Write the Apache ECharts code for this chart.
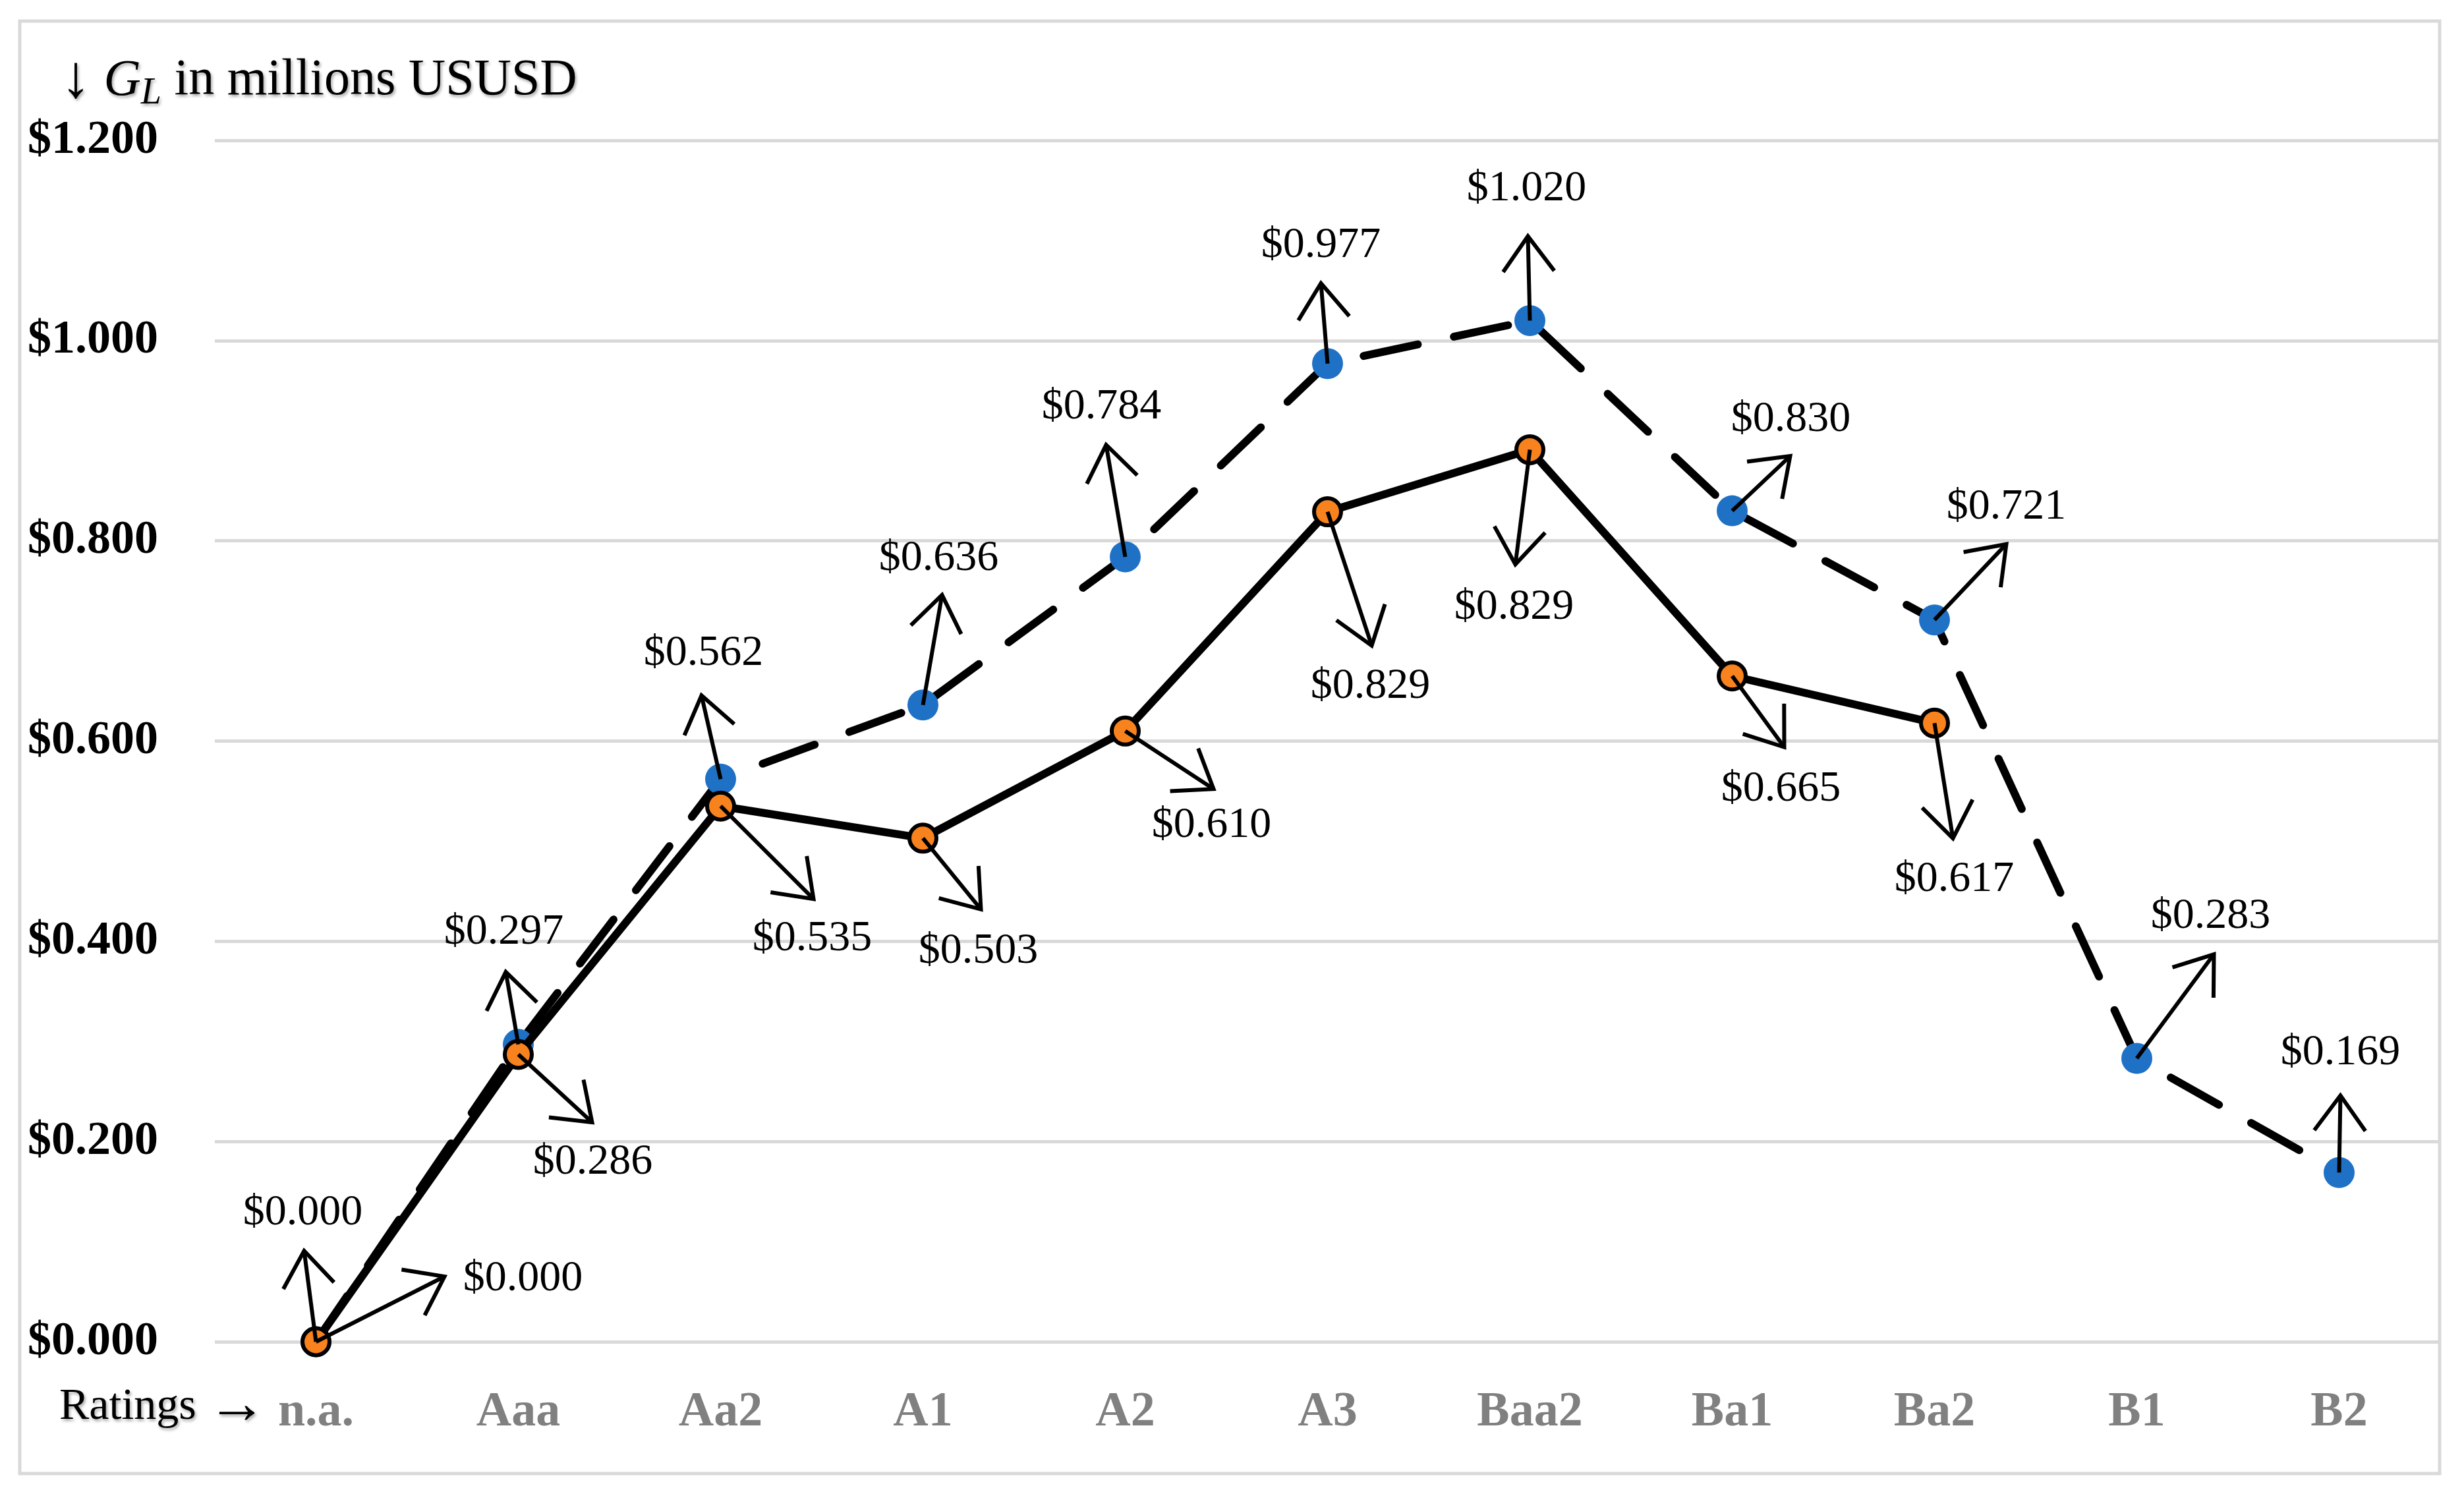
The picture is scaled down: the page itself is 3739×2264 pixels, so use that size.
<!DOCTYPE html>
<html>
<head>
<meta charset="utf-8">
<script src="https://cdn.jsdelivr.net/npm/echarts@6/dist/echarts.min.js"></script>
<style>
html,body{margin:0;padding:0;background:#fff;}
#chart{width:3739px;height:2264px;}
</style>
</head>
<body>
<div id="chart"></div>
<script>
// ---- data ----
const categories = ['n.a.', 'Aaa', 'Aa2', 'A1', 'A2', 'A3', 'Baa2', 'Ba1', 'Ba2', 'B1', 'B2'];
const dashedValues = [0.000, 0.297, 0.562, 0.636, 0.784, 0.977, 1.020, 0.830, 0.721, 0.283, 0.169];
const dashedLabels = ['$0.000', '$0.297', '$0.562', '$0.636', '$0.784', '$0.977', '$1.020', '$0.830', '$0.721', '$0.283', '$0.169'];
const solidValues = [0.000, 0.287, 0.535, 0.503, 0.610, 0.829, 0.891, 0.665, 0.618];
const solidLabels = ['$0.000', '$0.286', '$0.535', '$0.503', '$0.610', '$0.829', '$0.829', '$0.665', '$0.617'];
const yTicks = [0, 0.2, 0.4, 0.6, 0.8, 1.0, 1.2];

// ---- layout of arrows/labels (pixel offsets from each point) ----
const dashedTip = [[-18,-138],[-19,-110],[-29,-127],[29,-167],[-29,-170],[-10,-122],[-3,-128],[88,-83],[109,-115],[117,-158],[2,-117]];
const dashedLabelPos = [[-20,-195],[-22,-170],[-26,-191],[24,-222],[-36,-227],[-10,-179],[-5,-200],[89,-138],[109,-171],[112,-215],[2,-182]];
const solidTip = [[195,-99],[112,103],[141,141],[88,108],[134,88],[67,203],[-22,174],[79,108],[28,175]];
const solidLabelPos = [[314,-95],[113,164],[139,201],[84,172],[131,143],[65,265],[-24,239],[74,172],[30,238]];

const SERIF = '"Liberation Serif", "Times New Roman", serif';
const BLUE = '#1f71c6';
const ORANGE = '#f7821e';

function arrowSeries(values, labels, tips, lpos, z) {
  return {
    type: 'custom',
    z: z,
    silent: true,
    data: values.map((v, i) => [i, v]),
    renderItem: function (params, api) {
      const idx = params.dataIndex;
      const p = api.coord([api.value(0), api.value(1)]);
      const t = [p[0] + tips[idx][0], p[1] + tips[idx][1]];
      const ang = Math.atan2(t[1] - p[1], t[0] - p[0]);
      const L = 66, h = 36 * Math.PI / 180;
      const a1 = [t[0] - L * Math.cos(ang - h), t[1] - L * Math.sin(ang - h)];
      const a2 = [t[0] - L * Math.cos(ang + h), t[1] - L * Math.sin(ang + h)];
      return {
        type: 'group',
        children: [
          { type: 'line', shape: { x1: p[0], y1: p[1], x2: t[0], y2: t[1] }, style: { stroke: '#000', lineWidth: 6 } },
          { type: 'polyline', shape: { points: [a1, t, a2] }, style: { stroke: '#000', lineWidth: 6, fill: 'none' } },
          { type: 'text', x: p[0] + lpos[idx][0], y: p[1] + lpos[idx][1],
            style: { text: labels[idx], align: 'center', verticalAlign: 'middle', font: '66px ' + SERIF, fill: '#000' } }
        ]
      };
    }
  };
}

const chart = echarts.init(document.getElementById('chart'));
const shadow = { textShadowColor: 'rgba(0,0,0,0.35)', textShadowBlur: 4, textShadowOffsetX: 2, textShadowOffsetY: 3 };
function rs(extra) {
  return Object.assign({ fontFamily: SERIF, fontWeight: 'normal', color: '#000' }, shadow, extra);
}
chart.setOption({
  animation: false,
  backgroundColor: '#fff',
  title: [
    {
      text: '{arr|↓}{a| }{g|G}{s|L}{a| in millions USUSD}',
      left: 92, top: 76, padding: 0,
      textStyle: {
        fontWeight: 'normal', fontFamily: SERIF,
        rich: {
          arr: rs({ fontSize: 92, lineHeight: 94 }),
          a: rs({ fontSize: 78, lineHeight: 94 }),
          g: rs({ fontSize: 78, fontStyle: 'italic', lineHeight: 94 }),
          s: rs({ fontSize: 56, fontStyle: 'italic', lineHeight: 46, verticalAlign: 'bottom' })
        }
      }
    },
    {
      text: '{a|Ratings }{arr|→}',
      left: 90, top: 2090, padding: 0,
      textStyle: {
        fontWeight: 'normal', fontFamily: SERIF,
        rich: {
          a: rs({ fontSize: 68, lineHeight: 90 }),
          arr: rs({ fontSize: 90, lineHeight: 90 })
        }
      }
    }
  ],
  graphic: [
    { type: 'rect', shape: { x: 30, y: 32, width: 3672, height: 2204 }, style: { fill: 'none', stroke: '#d9d9d9', lineWidth: 5 }, z: -10 }
  ],
  grid: { left: 326, right: 36, top: 213, bottom: 228, containLabel: false },
  xAxis: {
    type: 'category',
    data: categories,
    boundaryGap: true,
    axisLine: { show: false },
    axisTick: { show: false },
    axisLabel: { color: '#808080', fontFamily: SERIF, fontWeight: 'bold', fontSize: 74, margin: 108, verticalAlign: 'middle' }
  },
  yAxis: {
    type: 'value',
    min: yTicks[0], max: yTicks[yTicks.length - 1], interval: 0.2,
    axisLine: { show: false },
    axisTick: { show: false },
    splitLine: { lineStyle: { color: '#d9d9d9', width: 5 } },
    axisLabel: {
      formatter: v => '$' + v.toFixed(3),
      color: '#000', fontFamily: SERIF, fontWeight: 'bold', fontSize: 72,
      align: 'left', margin: 284, verticalAlign: 'middle'
    }
  },
  series: [
    {
      type: 'line', z: 2, data: dashedValues, symbol: 'circle', symbolSize: 47, silent: true,
      lineStyle: { color: '#000', width: 12, type: [84, 56], cap: 'round' },
      itemStyle: { color: BLUE }
    },
    {
      type: 'line', z: 3, data: solidValues, symbol: 'circle', symbolSize: 41, silent: true,
      lineStyle: { color: '#000', width: 12, cap: 'round', join: 'round' },
      itemStyle: { color: ORANGE, borderColor: '#000', borderWidth: 6 }
    },
    arrowSeries(dashedValues, dashedLabels, dashedTip, dashedLabelPos, 5),
    arrowSeries(solidValues, solidLabels, solidTip, solidLabelPos, 5)
  ]
});
</script>
</body>
</html>
